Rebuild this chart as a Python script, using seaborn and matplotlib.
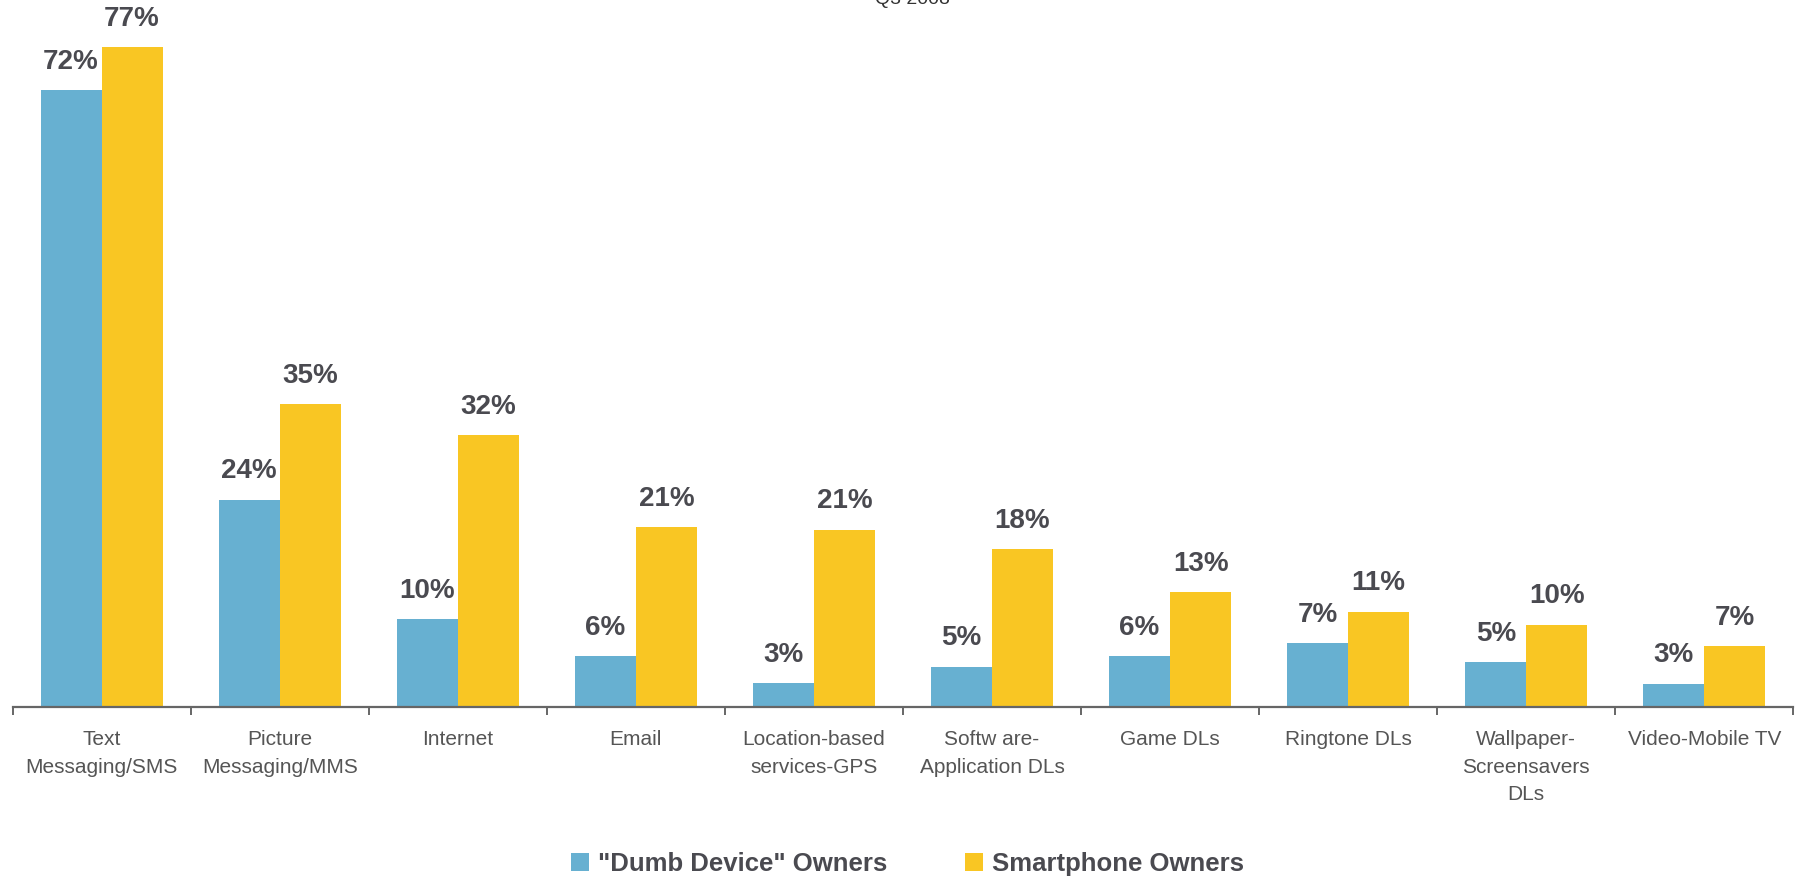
# ==========================================================
# Mobile feature usage: "Dumb Device" vs Smartphone owners
# ==========================================================
import pandas as pd
import matplotlib
matplotlib.use("Agg")
import matplotlib.pyplot as plt
import seaborn as sns
from matplotlib.ticker import FixedLocator

# -------- data --------
categories = [
    "Text\nMessaging/SMS", "Picture\nMessaging/MMS", "Internet", "Email",
    "Location-based\nservices-GPS", "Softw are-\nApplication DLs", "Game DLs",
    "Ringtone DLs", "Wallpaper-\nScreensavers\nDLs", "Video-Mobile TV",
]
groups = ['"Dumb Device" Owners', "Smartphone Owners"]
dumb_values = [72, 24.2, 10.2, 5.9, 2.8, 4.7, 5.9, 7.4, 5.2, 2.7]
smart_values = [77, 35.3, 31.7, 21.0, 20.7, 18.4, 13.4, 11.1, 9.6, 7.1]
title_text = "Q3 2008"

colors = ["#67B0D1", "#F9C623"]

df = pd.DataFrame({
    "category": categories * 2,
    "group": [groups[0]] * len(categories) + [groups[1]] * len(categories),
    "value": dumb_values + smart_values,
})

# -------- plot --------
sns.set_style("white")
plt.rcParams["font.family"] = ["Liberation Sans", "DejaVu Sans"]

fig = plt.figure(figsize=(17.97, 8.77), dpi=100)
ax = fig.add_axes([0.007, 0.194, 0.991, 0.806])

sns.barplot(data=df, x="category", y="value", hue="group",
            palette=colors, width=0.685, saturation=1, linewidth=0, ax=ax)

for cont in ax.containers:
    vals = [b.get_height() for b in cont]
    ax.bar_label(cont, labels=[f"{v:.0f}%" for v in vals], padding=11,
                 fontsize=20, fontweight="bold", color="#4A4A50")

ax.set_ylim(0, 82.5)
ax.set_xlim(-0.5, len(categories) - 0.5)
ax.set_xlabel("")
ax.set_ylabel("")
ax.set_yticks([])

for s in ["top", "left", "right"]:
    ax.spines[s].set_visible(False)
ax.spines["bottom"].set_color("#666666")
ax.spines["bottom"].set_linewidth(1.6)

ax.tick_params(axis="x", which="major", length=0, pad=17,
               labelsize=15, labelcolor="#555555")
ax.xaxis.set_minor_locator(FixedLocator([i - 0.5 for i in range(len(categories) + 1)]))
ax.tick_params(axis="x", which="minor", length=6, width=1.4, color="#666666",
               direction="out", bottom=True)
for lab in ax.get_xticklabels():
    lab.set_linespacing(1.55)

handles, labels = ax.get_legend_handles_labels()
ax.get_legend().remove()
fig.legend(handles, labels, loc="center", bbox_to_anchor=(0.505, 1 - 864 / 877),
           ncol=2, frameon=False, handlelength=0.7, handleheight=0.7,
           handletextpad=0.35, columnspacing=3.0,
           prop={"size": 18.5, "weight": "bold"}, labelcolor="#4A4A50")

# title sits mostly above the canvas, as in the source
fig.text(0.508, 1 - 4 / 877, title_text, ha="center", va="baseline",
         fontsize=14, color="#333333")

fig.savefig("out.png", dpi=100)
